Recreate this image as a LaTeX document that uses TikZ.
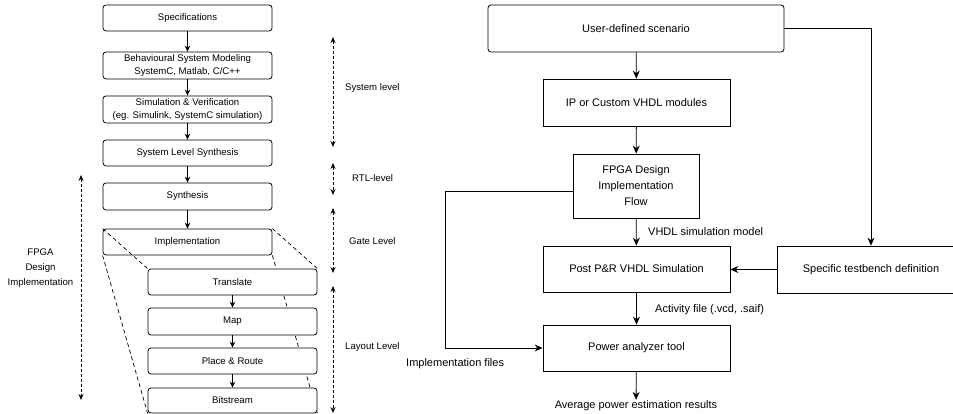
\documentclass[tikz,border=0pt]{standalone}
\usepackage{fontspec}
\setmainfont{Liberation Sans}
\usetikzlibrary{arrows.meta}
\pgfdeclarelayer{bg}
\pgfsetlayers{bg,main}
\begin{document}
\begin{tikzpicture}[x=1pt,y=-1pt,
  lbox/.style={draw, rounded corners=3pt, fill=white, line width=0.8pt, minimum width=169pt, inner sep=0pt, align=center, font=\fontsize{9.6}{12.5}\selectfont},
  rbox/.style={draw, fill=white, line width=0.8pt, inner sep=0pt, align=center, font=\fontsize{11}{16}\selectfont},
  arr/.style={-{Stealth[length=8pt,width=7pt]}, line width=0.8pt},
  larr/.style={-{Stealth[length=6pt,width=5.5pt]}, line width=0.8pt},
  lvl/.style={{Stealth[length=6pt,width=5pt]}-{Stealth[length=6pt,width=5pt]}, line width=0.8pt, dash pattern=on 3pt off 2pt},
  trap/.style={line width=0.7pt, dash pattern=on 4pt off 3pt},
  ltxt/.style={font=\fontsize{9.6}{15}\selectfont, inner sep=0pt, align=center},
  rtxt/.style={font=\fontsize{11}{14}\selectfont, inner sep=0pt},
]
\clip (0,0) rectangle (953,414);

% ---------------- left flow ----------------
\node[lbox, minimum height=26pt] (spec) at (187.5,18) {Specifications};
\node[lbox, minimum height=27pt] (beh) at (187.5,65.5) {Behavioural System Modeling\\SystemC, Matlab, C/C++};
\node[lbox, minimum height=27pt] (sim) at (187.5,109.5) {Simulation \& Verification\\(eg. Simulink, SystemC simulation)};
\node[lbox, minimum height=26pt] (sls) at (187.5,153) {System Level Synthesis};
\node[lbox, minimum height=27pt] (syn) at (187.5,196.5) {Synthesis};
\node[lbox, minimum height=26pt, fill=none] (impl) at (187.5,242) {Implementation};
\node[lbox, minimum height=26pt] (trans) at (232.5,282) {Translate};
\node[lbox, minimum height=27pt] (map) at (232.5,321.5) {Map};
\node[lbox, minimum height=26pt] (pr) at (232.5,361) {Place \& Route};
\node[lbox, minimum height=25pt] (bit) at (232.5,400.5) {Bitstream};

\begin{pgfonlayer}{bg}
\draw[trap] (impl.north west) -- (trans.north west);
\draw[trap] (impl.north east) -- (trans.north east);
\draw[trap] (impl.south west) -- (bit.south west);
\draw[trap] (impl.south east) -- (bit.south east);
\end{pgfonlayer}

\draw[larr] (spec) -- (beh);
\draw[larr] (beh) -- (sim);
\draw[larr] (sim) -- (sls);
\draw[larr] (sls) -- (syn);
\draw[larr] (syn) -- (impl);
\draw[larr] (trans) -- (map);
\draw[larr] (map) -- (pr);
\draw[larr] (pr) -- (bit);

% level arrows
\coordinate (sysT) at (333,37);   \coordinate (sysB) at (333,147);
\coordinate (rtlT) at (333,163);  \coordinate (rtlB) at (333,195);
\coordinate (gateT) at (333,208); \coordinate (gateB) at (333,273);
\coordinate (layT) at (333,286);  \coordinate (layB) at (333,413);
\coordinate (fpT) at (81,175);    \coordinate (fpB) at (81,400);
\draw[lvl] (sysT) -- (sysB);
\draw[lvl] (rtlT) -- (rtlB);
\draw[lvl] (gateT) -- (gateB);
\draw[lvl] (layT) -- (layB);
\draw[lvl] (fpT) -- (fpB);

\node[ltxt, anchor=west] (lsys) at (345,88) {System level};
\node[ltxt, anchor=west] (lrtl) at (352,178) {RTL-level};
\node[ltxt, anchor=west] (lgate) at (349,241) {Gate Level};
\node[ltxt, anchor=west] (llay) at (345,347) {Layout Level};
\node[ltxt] (lfpga) at (40.5,268) {FPGA\\Design\\Implementation};

% ---------------- right flow ----------------
\node[rbox, rounded corners=3pt, minimum width=296pt, minimum height=47pt] (user) at (636,28.5) {User-defined scenario};
\node[rbox, minimum width=187pt, minimum height=47pt] (ip) at (636.5,102.5) {IP or Custom VHDL modules};
\node[rbox, minimum width=126pt, minimum height=64pt] (fpga) at (636,186) {FPGA Design\\Implementation\\Flow};
\node[rbox, minimum width=187pt, minimum height=46pt] (post) at (636.5,269) {Post P\&R VHDL Simulation};
\node[rbox, minimum width=188pt, minimum height=47pt] (tb) at (871,269.5) {Specific testbench definition};
\node[rbox, minimum width=187pt, minimum height=46pt] (power) at (636.5,348) {Power analyzer tool};
\node[rtxt, outer sep=1pt] (avg) at (636,406) {Average power estimation results};

\draw[arr] (user) -- (ip);
\draw[arr] (ip) -- (fpga);
\draw[arr] (fpga) -- (post);
\draw[arr] (post) -- (power);
\draw[arr] (power) -- (avg);
\draw[arr] (user.east) -| (tb.north);
\draw[arr] (tb.west) -- (tb.west -| post.east);
\draw[arr] ([yshift=-5pt]fpga.west) -- ++(-127,0) |- (power.west);

\node[rtxt, anchor=west] (lvhdl) at (648,232) {VHDL simulation model};
\node[rtxt, anchor=west] (lact) at (655,310) {Activity file (.vcd, .saif)};
\node[rtxt, anchor=west] (limpf) at (406,364) {Implementation files};
\end{tikzpicture}
\end{document}
